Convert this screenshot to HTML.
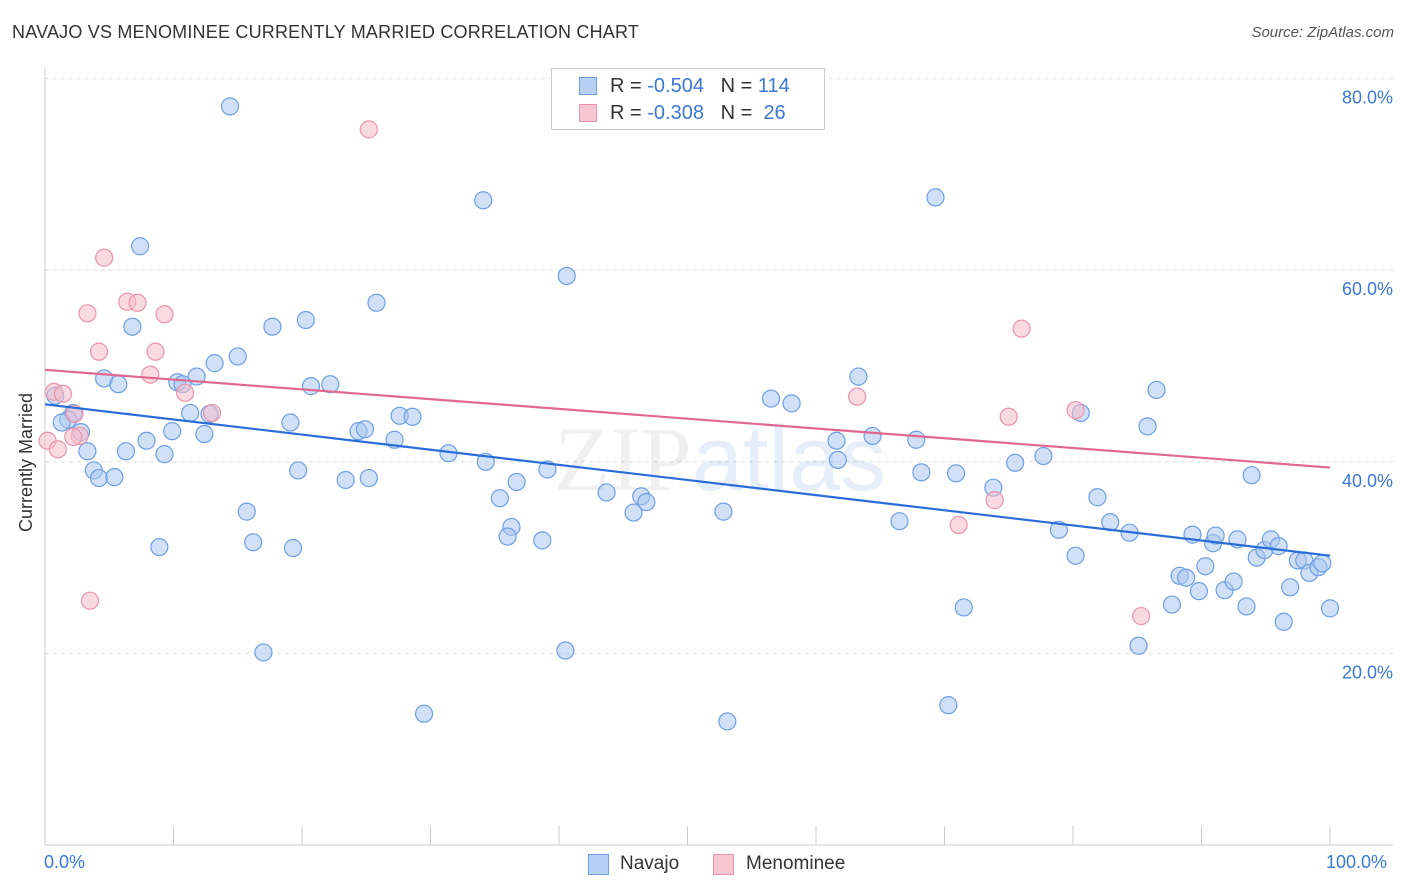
<!DOCTYPE html>
<html><head><meta charset="utf-8">
<style>
body{margin:0;background:#fff;font-family:"Liberation Sans",sans-serif;}
#wrap{position:relative;width:1406px;height:892px;overflow:hidden;}
.t{position:absolute;white-space:nowrap;}
</style></head>
<body>
<div id="wrap">
<div class="t" style="left:12px;top:22px;font-size:18px;color:#333;letter-spacing:0.2px">NAVAJO VS MENOMINEE CURRENTLY MARRIED CORRELATION CHART</div>
<div class="t" style="right:12px;top:24px;font-size:15px;color:#555;font-style:italic">Source: ZipAtlas.com</div>
<svg id="svg" width="1406" height="892" style="position:absolute;left:0;top:0"></svg>
</div>
<script>
const navX=[14.4,7.4,34.1,69.3,40.6,25.8,6.8,17.7,20.3,15.0,13.2,4.6,5.7,10.3,11.8,10.7,20.7,22.2,0.8,2.2,1.8,1.3,11.3,12.8,19.1,2.8,7.9,9.9,12.4,6.3,3.3,9.3,3.8,4.2,5.4,19.7,24.4,24.9,27.2,27.6,28.6,31.4,34.3,39.1,36.7,35.4,36.3,36.0,38.7,23.4,25.2,15.7,8.9,16.2,19.3,17.0,29.5,40.5,53.1,70.3,43.7,45.8,46.4,46.8,52.8,56.5,58.1,63.3,61.6,61.7,64.4,67.8,68.2,70.9,66.5,71.5,73.8,75.5,77.7,80.6,78.9,80.2,81.9,82.9,84.4,86.5,85.8,85.1,87.7,88.3,88.8,89.3,89.8,90.3,90.9,91.1,91.8,92.5,92.8,93.5,93.9,94.3,94.9,95.4,96.0,96.4,96.9,97.5,98.0,98.4,99.1,99.4,100];
const navY=[77.1,62.5,67.3,67.6,59.4,56.6,54.1,54.1,54.8,51.0,50.3,48.7,48.1,48.3,48.9,48.1,47.9,48.1,46.9,45.1,44.4,44.1,45.1,45.0,44.1,43.1,42.2,43.2,42.9,41.1,41.1,40.8,39.1,38.3,38.4,39.1,43.2,43.4,42.3,44.8,44.7,40.9,40.0,39.2,37.9,36.2,33.2,32.2,31.8,38.1,38.3,34.8,31.1,31.6,31.0,20.1,13.7,20.3,12.9,14.6,36.8,34.7,36.4,35.8,34.8,46.6,46.1,48.9,42.2,40.2,42.7,42.3,38.9,38.8,33.8,24.8,37.3,39.9,40.6,45.1,32.9,30.2,36.3,33.7,32.6,47.5,43.7,20.8,25.1,28.1,27.9,32.4,26.5,29.1,31.5,32.3,26.6,27.5,31.9,24.9,38.6,30.0,30.8,31.9,31.2,23.3,26.9,29.7,29.7,28.4,29.0,29.4,24.7];
const menX=[25.2,4.6,6.4,7.2,3.3,9.3,4.2,8.6,8.2,0.7,1.4,10.9,13.0,2.3,2.7,2.2,0.2,1.0,3.5,76.0,63.2,75.0,80.2,71.1,73.9,85.3];
const menY=[74.7,61.3,56.7,56.6,55.5,55.4,51.5,51.5,49.1,47.3,47.1,47.2,45.1,45.0,42.7,42.6,42.2,41.3,25.5,53.9,46.8,44.7,45.4,33.4,36.0,23.9];
const navTrend=[46.0,30.2];
const menTrend=[49.6,39.4];
const yTicks=[20,40,60,80];
const yTickLabels=["20.0%","40.0%","60.0%","80.0%"];
const xTicks=[0,10,20,30,40,50,60,70,80,90,100];

const NS="http://www.w3.org/2000/svg";
const svg=document.getElementById('svg');
const X=v=>45+v*12.85;
const Y=v=>845-v*9.58;
function mk(tag,attrs,parent){const e=document.createElementNS(NS,tag);for(const k in attrs)e.setAttribute(k,attrs[k]);(parent||svg).appendChild(e);return e;}

yTicks.forEach((t,i)=>{
  const g=mk('line',{x1:45,x2:1393,y1:Y(t),y2:Y(t),stroke:'#ddd','stroke-dasharray':'4,4'});
  
  
  const tx=mk('text',{x:1393,y:Y(t)+25,'text-anchor':'end','font-size':18,fill:'#3b78d8','font-family':'Liberation Sans'});
  tx.textContent=yTickLabels[i];
  
  
});
const ya=mk('line',{x1:45,x2:45,y1:68,y2:845,stroke:'#ccc'});


const xa=mk('line',{x1:45,x2:1393,y1:845,y2:845,stroke:'#ccc'});


xTicks.forEach(t=>{
  const l=mk('line',{x1:X(t),x2:X(t),y1:826,y2:845,stroke:'#ccc'});
  
  
});
const wm=mk('text',{x:720,y:490,'text-anchor':'middle','font-size':92,fill:'#000','fill-opacity':0.06,'font-family':'Liberation Serif'});
wm.innerHTML='ZIP<tspan fill="#3b78d8" fill-opacity="0.13" font-family="Liberation Sans">atlas</tspan>';



navX.forEach((v,i)=>{
  const c=mk('circle',{cx:X(v),cy:Y(navY[i]),r:8.5,fill:'#a9c7f0','fill-opacity':0.55,stroke:'#6e9fe2','stroke-width':1.2});
  
  
});
menX.forEach((v,i)=>{
  const c=mk('circle',{cx:X(v),cy:Y(menY[i]),r:8.5,fill:'#f6bccb','fill-opacity':0.55,stroke:'#e994ad','stroke-width':1.2});
  
  
});
const nl=mk('line',{x1:X(0),y1:Y(navTrend[0]),x2:X(100),y2:Y(navTrend[1]),stroke:'#2a6dd9','stroke-width':2.2});


const ml=mk('line',{x1:X(0),y1:Y(menTrend[0]),x2:X(100),y2:Y(menTrend[1]),stroke:'#e06890','stroke-width':2.2});


</script>
<div class="t" style="left:44px;top:852px;font-size:18px;color:#3b78d8">0.0%</div>
<div class="t" style="left:1326px;top:852px;font-size:18px;color:#3b78d8">100.0%</div>
<div class="t" style="left:16px;top:532px;font-size:18px;color:#333;transform:rotate(-90deg);transform-origin:0 0">Currently Married</div>
<div style="position:absolute;left:551px;top:68px;width:274px;height:62px;border:1px solid #ccc;background:#fff;box-sizing:border-box">
 <div style="position:absolute;left:27px;top:8px;width:18px;height:18px;background:#b7d0f3;border:1px solid #6e9fe2;box-sizing:border-box"></div>
 <div class="t" style="left:58px;top:6px;font-size:20px;color:#333">R = <span style="color:#3b78d8">-0.504</span>&nbsp;&nbsp;&nbsp;N = <span style="color:#3b78d8">114</span></div>
 <div style="position:absolute;left:27px;top:35px;width:18px;height:18px;background:#f8c6d3;border:1px solid #e994ad;box-sizing:border-box"></div>
 <div class="t" style="left:58px;top:33px;font-size:20px;color:#333">R = <span style="color:#3b78d8">-0.308</span>&nbsp;&nbsp;&nbsp;N = &nbsp;<span style="color:#3b78d8">26</span></div>
</div>
<div style="position:absolute;left:588px;top:854px;width:21px;height:21px;background:#b7d0f3;border:1px solid #6e9fe2;box-sizing:border-box"></div>
<div class="t" style="left:620px;top:853px;font-size:19px;color:#333">Navajo</div>
<div style="position:absolute;left:713px;top:854px;width:21px;height:21px;background:#f8c6d3;border:1px solid #e994ad;box-sizing:border-box"></div>
<div class="t" style="left:746px;top:853px;font-size:19px;color:#333">Menominee</div>
</body></html>
